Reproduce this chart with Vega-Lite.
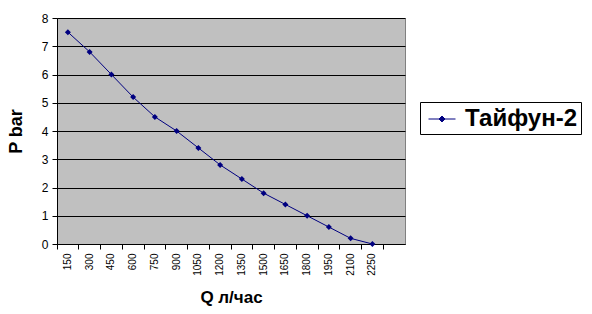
{
  "$schema": "https://vega.github.io/schema/vega-lite/v6.json",
  "width": 348,
  "height": 226,
  "autosize": {"type": "none"},
  "padding": {"left": 57, "top": 18, "right": 187, "bottom": 70},
  "background": "white",
  "config": {
    "font": "Liberation Sans",
    "view": {"fill": "#C0C0C0", "stroke": "#808080", "strokeWidth": 1}
  },
  "data": {
    "values": [
      {"Q": 150, "P": 7.5, "series": "Тайфун-2"},
      {"Q": 300, "P": 6.8, "series": "Тайфун-2"},
      {"Q": 450, "P": 6.0, "series": "Тайфун-2"},
      {"Q": 600, "P": 5.2, "series": "Тайфун-2"},
      {"Q": 750, "P": 4.5, "series": "Тайфун-2"},
      {"Q": 900, "P": 4.0, "series": "Тайфун-2"},
      {"Q": 1050, "P": 3.4, "series": "Тайфун-2"},
      {"Q": 1200, "P": 2.8, "series": "Тайфун-2"},
      {"Q": 1350, "P": 2.3, "series": "Тайфун-2"},
      {"Q": 1500, "P": 1.8, "series": "Тайфун-2"},
      {"Q": 1650, "P": 1.4, "series": "Тайфун-2"},
      {"Q": 1800, "P": 1.0, "series": "Тайфун-2"},
      {"Q": 1950, "P": 0.6, "series": "Тайфун-2"},
      {"Q": 2100, "P": 0.2, "series": "Тайфун-2"},
      {"Q": 2250, "P": 0.0, "series": "Тайфун-2"}
    ]
  },
  "mark": {
    "type": "line",
    "strokeWidth": 1,
    "point": {"filled": true, "shape": "diamond", "size": 36}
  },
  "encoding": {
    "x": {
      "field": "Q",
      "type": "ordinal",
      "sort": null,
      "scale": {
        "type": "band",
        "domain": [150, 300, 450, 600, 750, 900, 1050, 1200, 1350, 1500, 1650, 1800, 1950, 2100, 2250, 2400],
        "paddingInner": 0,
        "paddingOuter": 0
      },
      "axis": {
        "title": "Q л/час",
        "titleFont": "Liberation Sans",
        "titleFontSize": 17,
        "titleFontWeight": "bold",
        "titleColor": "black",
        "titlePadding": 14,
        "labelExpr": "datum.value == 2400 ? '' : datum.label",
        "labelAngle": -90,
        "labelAlign": "right",
        "labelBaseline": "middle",
        "labelFontSize": 10,
        "labelColor": "black",
        "labelPadding": 4,
        "bandPosition": 0,
        "ticks": true,
        "tickSize": 5,
        "tickColor": "black",
        "domainColor": "black",
        "grid": false
      }
    },
    "y": {
      "field": "P",
      "type": "quantitative",
      "scale": {"domain": [0, 8], "nice": false},
      "axis": {
        "title": "P bar",
        "titleFont": "Liberation Sans",
        "titleFontSize": 18,
        "titleFontWeight": "bold",
        "titleColor": "black",
        "titlePadding": 16,
        "values": [0, 1, 2, 3, 4, 5, 6, 7, 8],
        "labelFontSize": 12,
        "labelColor": "black",
        "labelPadding": 4,
        "tickSize": 5,
        "tickColor": "black",
        "domainColor": "black",
        "grid": true,
        "gridColor": "black",
        "gridOpacity": 1,
        "gridWidth": 1
      }
    },
    "color": {
      "field": "series",
      "type": "nominal",
      "scale": {"range": ["#000080"]},
      "legend": {
        "title": null,
        "orient": "none",
        "legendX": 363,
        "legendY": 84,
        "strokeColor": "black",
        "padding": 3,
        "symbolOffset": 5,
        "labelOffset": 9,
        "labelFont": "Liberation Sans",
        "labelFontSize": 24,
        "labelFontWeight": "bold",
        "labelColor": "black",
        "symbolType": "M-1,0L1,0M-0.22,0L0,-0.22L0.22,0L0,0.22Z",
        "symbolSize": 729,
        "symbolStrokeWidth": 1,
        "symbolFillColor": "#000080",
        "symbolStrokeColor": "#000080"
      }
    }
  }
}
